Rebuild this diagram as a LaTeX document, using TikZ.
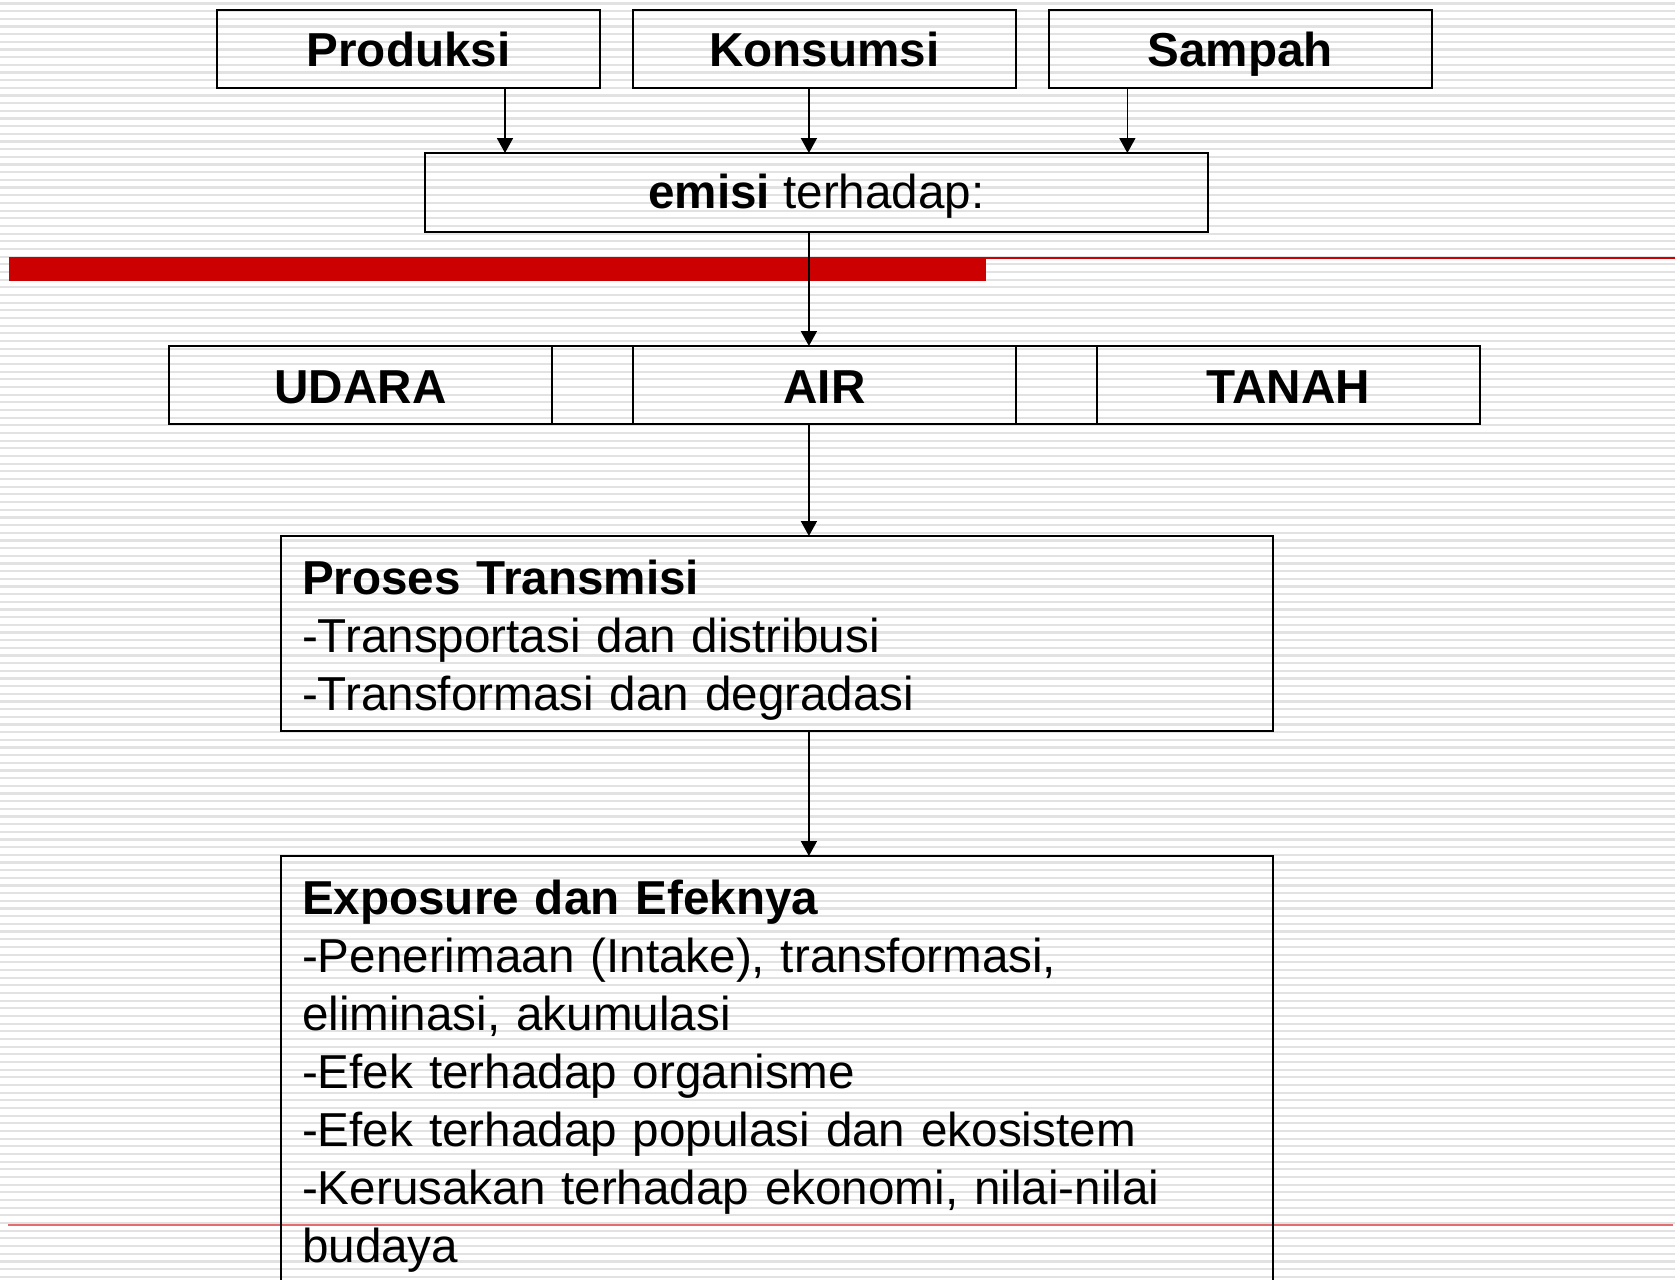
\documentclass[tikz,border=0pt]{standalone}
\usepackage{fontspec}
\setmainfont{Liberation Sans}
\usepackage{tikz}
\usetikzlibrary{arrows.meta, positioning}
\definecolor{stripegray}{RGB}{226,226,226}
\definecolor{slidered}{RGB}{204,0,0}
\definecolor{palered}{RGB}{224,112,112}

\begin{document}
\begin{tikzpicture}[x=0.02cm, y=-0.02cm,
                box/.style={draw, line width=0.04cm, inner sep=0pt, outer sep=0pt,
                    font=\fontsize{27.1}{33}\selectfont},
                headbox/.style={box, font=\fontsize{27.1}{33}\selectfont\bfseries,
                    minimum width=7.66cm, minimum height=1.56cm, text height=0.68cm, text depth=0pt},
                gapbox/.style={box, minimum width=1.62cm, minimum height=1.56cm},
                listbox/.style={box, text width=19cm, align=left, inner xsep=0.42cm, anchor=north},
                arr/.style={line width=0.035cm, -{Triangle[length=0.3cm, width=0.32cm]}},
                stripe/.style={stripegray, line width=0.044cm}
            ]
                \useasboundingbox (0,0) rectangle (1675,1279);
                \clip (0,0) rectangle (1675,1279);
                \fill[white] (0,0) rectangle (1675,1279);
                \foreach \k in {0,...,166}
                    \draw[stripe] (0,{3.5+7.67*\k}) -- (1675,{3.5+7.67*\k});
                \fill[slidered] (9,257) rectangle (986,281);
                \draw[slidered, line width=0.046cm] (986,258) -- (1675,258);
                \draw[palered, line width=0.04cm] (8,1225) -- (1673,1225);

                \node[headbox] (produksi) at (408.5,49) {Produksi};
                \node[headbox, right=0.66cm of produksi] (konsumsi) {Konsumsi};
                \node[headbox, right=0.66cm of konsumsi] (sampah) {Sampah};
                \node[box, minimum width=15.66cm, minimum height=1.58cm, text height=0.64cm, text depth=0pt]
                    (emisi) at (816.5,192.5) {\textbf{emisi} terhadap:};

                \node[headbox, text height=0.72cm] (udara) at (360.5,385) {UDARA};
                \node[gapbox, right=0pt of udara] (antara1) {};
                \node[headbox, text height=0.72cm, right=0pt of antara1] (air) {AIR};
                \node[gapbox, right=0pt of air] (antara2) {};
                \node[headbox, text height=0.72cm, right=0pt of antara2] (tanah) {TANAH};

                \node[listbox, minimum height=3.9cm] (proses) at (777,536)
                    {\rule{0pt}{0.96cm}\textbf{Proses Transmisi}\\-Transportasi dan distribusi\\-Transformasi dan degradasi};
                \node[listbox, minimum height=8.82cm] (exposure) at (777,856)
                    {\textbf{Exposure dan Efeknya}\\-Penerimaan (Intake), transformasi,\\eliminasi, akumulasi\\-Efek terhadap organisme\\-Efek terhadap populasi dan ekosistem\\-Kerusakan terhadap ekonomi, nilai-nilai\\budaya};

                \draw[arr] ([xshift=1.93cm]produksi.south) -- ([xshift=1.93cm]produksi.south |- emisi.north);
                \draw[arr] ([xshift=-0.31cm]konsumsi.south) -- ([xshift=-0.31cm]konsumsi.south |- emisi.north);
                \draw[arr] ([xshift=-2.26cm]sampah.south) -- ([xshift=-2.26cm]sampah.south |- emisi.north);
                \draw[arr] ([xshift=-0.31cm]air.north |- emisi.south) -- ([xshift=-0.31cm]air.north);
                \draw[arr] ([xshift=-0.31cm]air.south) -- ([xshift=-0.31cm]air.south |- proses.north);
                \draw[arr] ([xshift=-0.31cm]air.south |- proses.south) -- ([xshift=-0.31cm]air.south |- exposure.north);
            \end{tikzpicture}
\end{document}
